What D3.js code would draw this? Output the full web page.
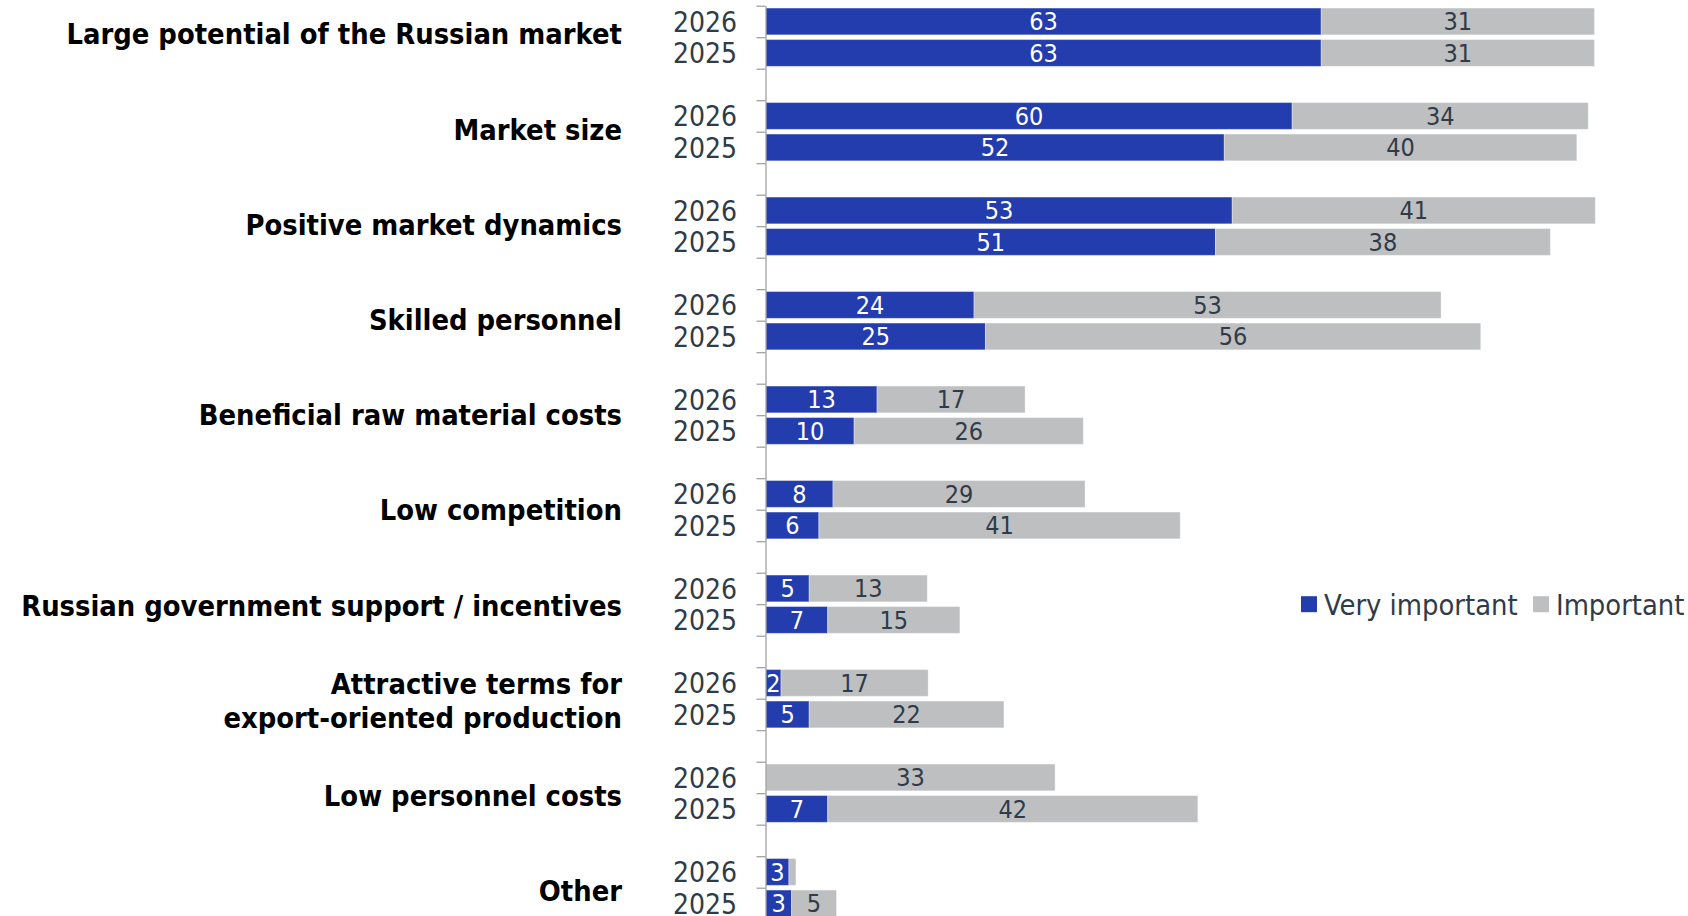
<!DOCTYPE html>
<html>
<head>
<meta charset="utf-8">
<script src="https://cdn.jsdelivr.net/npm/d3@7"></script>
<style>
  body { margin: 0; background: #fff; }
  text { font-family: Tahoma, "DejaVu Sans Condensed", "DejaVu Sans", sans-serif; }
</style>
</head>
<body>
<div id="chart"></div>
<script>
const categories = [
  'Large potential of the Russian market',
  'Market size',
  'Positive market dynamics',
  'Skilled personnel',
  'Beneficial raw material costs',
  'Low competition',
  'Russian government support / incentives',
  'Attractive terms for\nexport-oriented production',
  'Low personnel costs',
  'Other'
]
const years = ['2026', '2025']
const seriesNames = ['Very important', 'Important']

// shares in % (labels are rounded)
const veryImportant2026 = [63, 59.7, 52.9, 23.6, 12.6, 7.6, 4.9, 1.7, 0, 2.6]
const important2026 = [31, 33.6, 41.2, 53, 16.8, 28.6, 13.4, 16.7, 32.8, 0.8]
const veryImportant2025 = [63, 52, 51, 24.9, 10, 6, 7, 4.9, 7, 2.9]
const important2025 = [31, 40, 38, 56.2, 26, 41, 15, 22.1, 42, 5.1]

const colors = ['#233cae', '#bebfc1']
const textColor = '#2f3b48'

let width = 1688
let height = 916
let axisX = 766
let marginTop = 5.7
let step = 31.5

// one row per bar, plus an empty row after each group
let rows = []
categories.forEach(function (c, i) {
  rows.push({ key: i + '-2026', group: i, year: years[0], values: [veryImportant2026[i], important2026[i]] })
  rows.push({ key: i + '-2025', group: i, year: years[1], values: [veryImportant2025[i], important2025[i]] })
  rows.push({ key: i + '-gap', group: i, year: null, values: [] })
})
let bars = rows.filter(function (r) { return r.year })

let yScale = d3.scaleBand()
  .domain(rows.map(function (r) { return r.key }))
  .range([marginTop, marginTop + rows.length * step])
  .paddingInner(0.15)
  .paddingOuter(0.075)

let boundary = d3.scaleLinear()
  .domain([0, rows.length])
  .range([marginTop, marginTop + rows.length * step])

let xScale = d3.scaleLinear()
  .domain([0, 100])
  .range([axisX, axisX + 881.3])

function translation (x, y) {
  return 'translate(' + x + ',' + y + ')'
}

let svg = d3.select('#chart').append('svg')
  .attr('width', width)
  .attr('height', height)

// stacked segments
let segs = []
bars.forEach(function (r) {
  let x0 = 0
  r.values.forEach(function (v, s) {
    segs.push({ row: r, s: s, v: v, x0: x0, x1: x0 + v })
    x0 += v
  })
})

svg.append('g').selectAll('rect')
  .data(segs.filter(function (d) { return d.v > 0 }))
  .enter().append('rect')
  .attr('x', function (d) { return xScale(d.x0) })
  .attr('y', function (d) { return yScale(d.row.key) })
  .attr('width', function (d) { return xScale(d.x1) - xScale(d.x0) })
  .attr('height', yScale.bandwidth())
  .attr('fill', function (d) { return colors[d.s] })
  .attr('stroke', '#fff')
  .attr('stroke-opacity', 0.35)
  .attr('stroke-width', 1)

svg.append('g').selectAll('text')
  .data(segs.filter(function (d) { return d.v > 0 && xScale(d.x1) - xScale(d.x0) > 12 }))
  .enter().append('text')
  .attr('x', function (d) { return (xScale(d.x0) + xScale(d.x1)) / 2 })
  .attr('y', function (d) { return yScale(d.row.key) + yScale.bandwidth() / 2 })
  .attr('dy', '0.36em')
  .attr('text-anchor', 'middle')
  .attr('font-size', 25)
  .attr('fill', function (d) { return d.s === 0 ? '#fff' : textColor })
  .text(function (d) { return Math.round(d.v) })

// axis with a tick at every row boundary
let yAxis = d3.axisLeft(boundary)
  .tickValues(d3.range(0, rows.length))
  .tickSize(9)
  .tickSizeOuter(0)
  .tickFormat('')

let axisG = svg.append('g')
  .attr('transform', translation(axisX - 0.5, 0))
  .call(yAxis)
axisG.selectAll('path, line').attr('stroke', '#9a9a9a').attr('stroke-width', 1.2)

// year labels
svg.append('g').selectAll('text')
  .data(bars)
  .enter().append('text')
  .attr('x', 737)
  .attr('y', function (d) { return yScale(d.key) + yScale.bandwidth() / 2 })
  .attr('dy', '0.36em')
  .attr('text-anchor', 'end')
  .attr('font-size', 28)
  .attr('fill', textColor)
  .text(function (d) { return d.year })

// category labels (spaced a touch wider than the bar groups, as in the source)
let catG = svg.append('g').selectAll('text')
  .data(categories)
  .enter().append('text')
  .attr('x', 622)
  .attr('y', function (d, i) { return boundary(i * 3 + 1) + (i - 4.5) * 0.71 })
  .attr('text-anchor', 'end')
  .attr('font-size', 28.8)
  .attr('font-weight', 'bold')
  .attr('fill', '#000')
catG.each(function (d) {
  let lines = d.split('\n')
  let t = d3.select(this)
  lines.forEach(function (l, k) {
    t.append('tspan')
      .attr('x', 622)
      .attr('dy', k === 0 ? (0.36 - (lines.length - 1) * 1.2 / 2) + 'em' : '1.2em')
      .text(l)
  })
})

// legend
let legend = svg.append('g')
  .attr('transform', translation(1301, boundary(19)))
let legendX = [0, 232]
seriesNames.forEach(function (name, i) {
  let item = legend.append('g').attr('transform', translation(legendX[i], 0))
  item.append('rect')
    .attr('x', 0)
    .attr('y', -8)
    .attr('width', 16)
    .attr('height', 16)
    .attr('fill', colors[i])
  item.append('text')
    .attr('x', 23)
    .attr('y', 0)
    .attr('dy', '0.36em')
    .attr('font-size', 28.8)
    .attr('fill', textColor)
    .text(name)
})
</script>
</body>
</html>
